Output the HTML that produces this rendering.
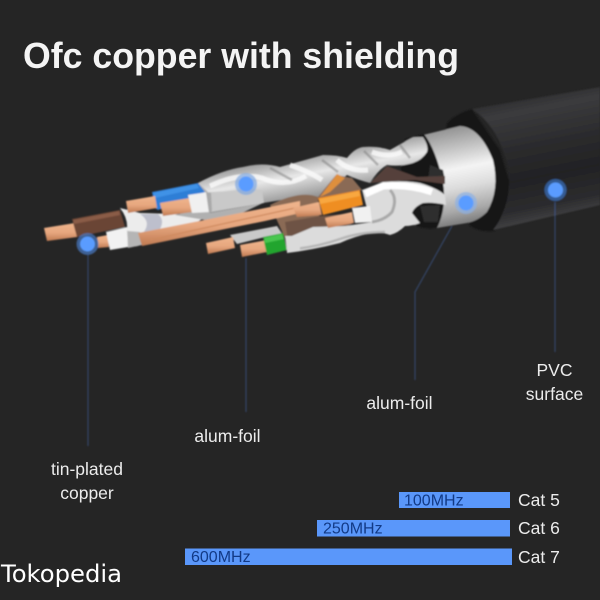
<!DOCTYPE html>
<html><head><meta charset="utf-8"><style>
html,body{margin:0;padding:0;background:#252525}
svg{display:block}
text{font-family:"Liberation Sans",sans-serif}
</style></head><body>
<svg width="600" height="600" viewBox="0 0 600 600" xmlns="http://www.w3.org/2000/svg">
<defs>
<linearGradient id="jk" gradientUnits="userSpaceOnUse" x1="525" y1="95" x2="550" y2="220"><stop offset="0" stop-color="#2d2d2f"/><stop offset=".12" stop-color="#3b3b3d"/><stop offset=".4" stop-color="#2b2b2d"/><stop offset=".65" stop-color="#222224"/><stop offset=".88" stop-color="#2c2c2e"/><stop offset="1" stop-color="#414143"/></linearGradient>
<linearGradient id="sv" gradientUnits="userSpaceOnUse" x1="450" y1="125" x2="470" y2="228"><stop offset="0" stop-color="#8c8c8c"/><stop offset=".2" stop-color="#bdbdbd"/><stop offset=".42" stop-color="#f4f4f4"/><stop offset=".6" stop-color="#dcdcdc"/><stop offset=".82" stop-color="#a8a8a8"/><stop offset="1" stop-color="#6a6a6a"/></linearGradient>
<linearGradient id="tw" gradientUnits="userSpaceOnUse" x1="340" y1="145" x2="350" y2="200"><stop offset="0" stop-color="#8e8e8e"/><stop offset=".4" stop-color="#e8e8e8"/><stop offset=".75" stop-color="#a4a4a4"/><stop offset="1" stop-color="#6f6f6f"/></linearGradient>
<linearGradient id="cu" x1="0" y1="0" x2="0" y2="1"><stop offset="0" stop-color="#efb48c"/><stop offset=".55" stop-color="#e6a67e"/><stop offset="1" stop-color="#bf7a52"/></linearGradient>
<filter id="b1" x="-5%" y="-5%" width="110%" height="110%"><feGaussianBlur stdDeviation=".7"/></filter>
</defs>
<rect width="600" height="600" fill="#252525"/>

<text x="23" y="68" font-size="36.500" font-weight="700" fill="#f4f4f4" textLength="436" lengthAdjust="spacingAndGlyphs">Ofc copper with shielding</text>

<g filter="url(#b1)">
<!-- jacket ring -->
<path d="M447 123 Q456 113 472 109 L500 150 L512 190 L495 231 Q480 233 470 226 L440 160 Z" fill="#141415"/>
<!-- jacket -->
<path d="M600 87 L472 109 Q497 125 508 165 Q513 205 493 230 L600 205 Z" fill="url(#jk)"/>
<!-- sleeve -->
<path d="M423 135 L460 126 Q480 127 493 160 Q500 190 487 212 Q478 221 467 223 L437 228 L415 226 L405 140 Z" fill="url(#sv)"/>
<!-- opening -->
<path d="M405 139 L424 134 Q436 150 443 182 Q447 208 437 228 Q425 230 413 225 L398 190 Z" fill="#131313"/>
<path d="M430 165 L443 170 L445 180 L428 180 Z M420 206 L440 205 L438 222 L424 222 Z" fill="#2e2e2e"/>

<!-- upper twist shield -->
<path d="M198 183 Q222 170 243 167 Q262 162 280 167 L323 155 Q338 155 347 158 Q355 148 363 147 Q378 146 390 150 L413 137 L423 137 Q429 146 427 152 Q422 160 413 163 Q400 167 387 165 Q378 170 370 183 Q358 180 347 175 L320 197 L300 197 L263 203 L210 213 Z" fill="url(#tw)"/>
<path d="M210 186 Q240 172 262 178 Q285 188 306 176 M290 165 Q310 172 322 180 M337 160 Q350 172 368 170 M372 152 Q388 158 402 152" stroke="#fbfbfb" stroke-width="5" fill="none" opacity=".8"/>
<path d="M216 205 Q240 200 262 194 M270 168 L292 180 M322 160 L338 172 M364 151 L378 165 M400 145 L410 158" stroke="#7a7a7a" stroke-width="2.500" fill="none" opacity=".5"/>

<!-- brown interior -->
<path d="M370 183 L387 166 L417 177 L445 176 L445 184 L415 180 L383 182 Z" fill="#54403a"/>
<path d="M270 205 Q300 190 318 197 L336 175 L352 178 L362 190 L318 198 L320 225 L285 238 Z" fill="#8a6a55"/>
<path d="M320 197 L337 174 L345 178 L330 192 Z" fill="#de8f3d"/>
<path d="M285 222 L320 216 L345 214 L352 224 L330 232 L305 240 L288 240 Z" fill="#6e5344"/>

<!-- lower twist shield -->
<path d="M362 190 L383 182 Q405 180 420 183 Q437 188 445 195 L446 205 Q434 202 423 203 Q414 207 412 213 L420 223 Q412 226 405 226 Q398 233 390 235 Q382 232 372 233 Q355 236 340 243 Q312 250 287 253 L287 238 L313 227 L345 226 L372 222 L366 205 Z" fill="#dcdcdc"/>
<path d="M365 194 L383 186 Q410 184 432 192" stroke="#ffffff" stroke-width="7" fill="none"/>
<path d="M390 190 Q398 198 392 212 Q385 220 372 222" stroke="#a9a9a9" stroke-width="3" fill="none"/>
<path d="M296 249 Q320 246 340 239 Q360 232 385 232" stroke="#b5b5b5" stroke-width="2.500" fill="none"/>

<!-- white/silver lower left -->
<path d="M120 208 L140 213 L175 214 L205 217 L190 227 L143 233 L138 246 L128 247 L127 229 Q128 218 120 208 Z" fill="#ececec"/>
<path d="M140 214 Q152 222 143 233 L160 229 Q165 220 158 214 Z" fill="#aeb0c2" opacity=".75"/>
<path d="M127 231 L140 232 L142 245 L128 248 Z" fill="#b5b5b5"/>

<!-- main foil left body -->
<path d="M198 183 L208 192 L210 213 L263 203 L240 214 L205 220 L175 215 L214 205 Z" fill="#b0b0b0"/>
<path d="M208 192 Q230 192 246 188 L262 190 L264 203 L210 212 Z" fill="#c9c9c9"/>

<!-- long copper -->
<path d="M138 233 L230 215 L300 201 L300 213 L265 221 L230 228 L142 246 Z" fill="url(#cu)"/>
<path d="M150 240 L295 208" stroke="#cf8a5f" stroke-width="1.200" fill="none"/>

<!-- brown wire -->
<path d="M44 228 L75 223 L77 237 L47 241 Z" fill="url(#cu)"/>
<path d="M72 219 L120 210 L125 227 L77 237 Z" fill="#6b4534"/>
<path d="M73 220 L119 211 L120 215 L74 224 Z" fill="#8a5c46"/>
<!-- bottom-left copper + collar -->
<path d="M97 237 L108 235 L109 247 L98 248 Z" fill="url(#cu)"/>
<path d="M106 232 L127 227 L128 247 L110 250 Z" fill="#f2f2f2"/>
<!-- blue wire -->
<path d="M152 192 L198 183 L205 192 L158 210 L155 208 Z" fill="#2f7ed6"/>
<path d="M153 193 L197 184 L199 188 L155 198 Z" fill="#3f92e6"/>
<path d="M126 201 L155 196 L157 208 L128 213 Z" fill="url(#cu)"/>
<path d="M160 203 L190 198 L192 212 L163 216 Z" fill="url(#cu)"/>
<path d="M188 195 L208 192 L210 212 L192 213 Z" fill="#f0f0f0"/>
<path d="M206 192 L211 193 L212 211 L209 213 Z" fill="#a9a9a9"/>

<!-- green pair -->
<path d="M230 235 L277 226 L283 235 L265 237 L237 244 Z" fill="#c9c9c9"/>
<path d="M206 243 L233 237 L235 248 L208 254 Z" fill="url(#cu)"/>
<path d="M240 245 L267 240 L267 252 L242 257 Z" fill="url(#cu)"/>
<path d="M263 237 L283 233 L287 250 L267 255 Z" fill="#22a52e"/>
<path d="M264 238 L282 234 L284 239 L265 243 Z" fill="#48c64f"/>
<path d="M285 236 L300 236 L300 250 L287 252 Z" fill="#dadada"/>

<!-- orange pair -->
<path d="M293 208 L319 202 L322 215 L297 217 Z" fill="url(#cu)"/>
<path d="M318 198 L360 190 L363 205 L323 215 Z" fill="#ef8e23"/>
<path d="M319 199 L359 191 L360 196 L320 204 Z" fill="#f8a740"/>
<path d="M325 218 L352 212 L354 223 L328 228 Z" fill="url(#cu)"/>
<path d="M352 208 L370 206 L372 222 L355 223 Z" fill="#f1f1f1"/>

<!-- leader lines -->
<g stroke="#3f5c94" stroke-width="1" fill="none" opacity=".7">
<line x1="88" y1="255" x2="88" y2="446"/>
<line x1="246" y1="258" x2="246" y2="412"/>
<path d="M452 226 L415 292 L415 380"/>
<line x1="555" y1="202" x2="555" y2="352"/>
</g>
<!-- dots -->
<circle cx="87.500" cy="244" r="11" fill="#4b7fd0" opacity=".65"/><circle cx="87.500" cy="244" r="7.500" fill="#5a9cff"/>
<circle cx="246" cy="184" r="11" fill="#7ea6e0" opacity=".7"/><circle cx="246" cy="184" r="7.500" fill="#5a9cff"/>
<circle cx="466" cy="203" r="11" fill="#8cb0e4" opacity=".7"/><circle cx="466" cy="203" r="7.500" fill="#5a9cff"/>
<circle cx="555.500" cy="190" r="11" fill="#35619f" opacity=".9"/><circle cx="555.500" cy="190" r="7.500" fill="#5a9cff"/>
</g>

<!-- labels -->
<g fill="#ececec" font-size="17.500" text-anchor="middle">
<text x="87" y="475">tin-plated</text>
<text x="87" y="499">copper</text>
<text x="227.500" y="442">alum-foil</text>
<text x="399.500" y="409">alum-foil</text>
<text x="554.500" y="376">PVC</text>
<text x="554.500" y="400">surface</text>
</g>

<!-- bars -->
<rect x="399" y="492" width="111" height="16" fill="#5a97fa"/>
<rect x="317" y="520" width="193" height="16.500" fill="#5a97fa"/>
<rect x="185" y="548.500" width="327" height="16.500" fill="#5a97fa"/>
<g fill="#123a86" font-size="16">
<text x="404" y="505.500">100MHz</text>
<text x="323" y="533.500">250MHz</text>
<text x="191" y="562">600MHz</text>
</g>
<g fill="#ececec" font-size="17.500">
<text x="518" y="506">Cat 5</text>
<text x="518" y="534">Cat 6</text>
<text x="518" y="563">Cat 7</text>
</g>
<text x="1" y="582" font-size="24" fill="#ffffff" style='font-family:"DejaVu Sans",sans-serif' textLength="121" lengthAdjust="spacingAndGlyphs">Tokopedia</text>
</svg>
</body></html>
